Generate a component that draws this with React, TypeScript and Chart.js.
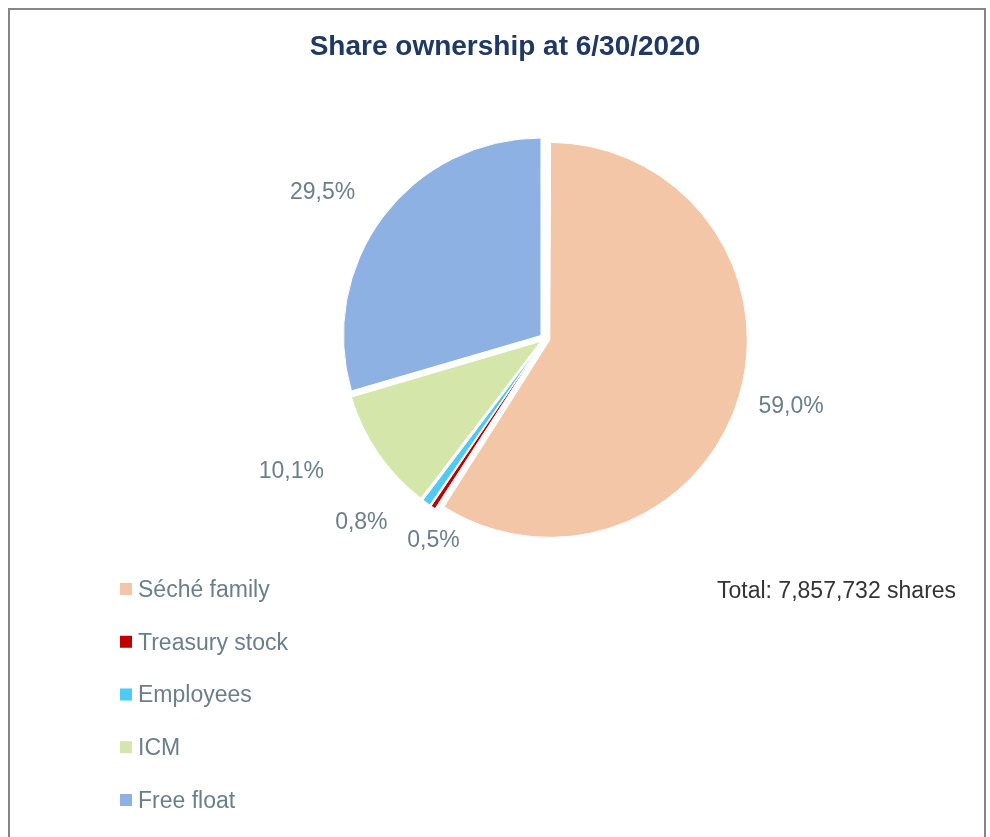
import React, { useEffect, useRef } from "react";
import { Chart, registerables } from "chart.js";

Chart.register(...registerables);

const labels = ["Séché family", "Treasury stock", "Employees", "ICM", "Free float"];
const values = [59.0, 0.5, 0.8, 10.1, 29.5];
const colors = ["#f2c6a7", "#c00000", "#4fc9f5", "#d5e6aa", "#8eb1e3"];
const titleText = "Share ownership at 6/30/2020";
const totalText = "Total: 7,857,732 shares";

// data-label placement (style): angle shift from slice middle (deg), distance from pie centre (px)
const labelAngleShift = [-1.1, -4.5, 9.3, 7.0, -3.25];
const labelDistance = [255, 230, 259, 286, 267];

const RADIUS = 197.5;
const EXPLODE = 5;
const FONT = '"Liberation Sans", Arial, Helvetica, sans-serif';
const LABEL_COLOR = "#6b7f89";

const fmtPct = (v: number) => v.toFixed(1).replace(".", ",") + "%";

const explodeFix = {
  id: "explodeFix",
  afterDatasetUpdate(chart: any) {
    const meta = chart.getDatasetMeta(0);
    meta.data.forEach((arc: any) => {
      const fix = 1 - Math.sin(Math.min(Math.PI, arc.circumference || 0));
      arc.outerRadius = RADIUS - EXPLODE * fix;
    });
  },
};

const decorations = {
  id: "decorations",
  afterDatasetsDraw(chart: any) {
    const ctx = chart.ctx as CanvasRenderingContext2D;
    const meta = chart.getDatasetMeta(0);
    const data = chart.data.datasets[0].data as number[];
    ctx.save();
    ctx.font = `23px ${FONT}`;
    ctx.fillStyle = LABEL_COLOR;
    ctx.textAlign = "center";
    ctx.textBaseline = "middle";
    meta.data.forEach((arc: any, i: number) => {
      const mid = (arc.startAngle + arc.endAngle) / 2 + (labelAngleShift[i] * Math.PI) / 180;
      const d = labelDistance[i];
      ctx.fillText(fmtPct(data[i]), arc.x + Math.cos(mid) * d, arc.y + Math.sin(mid) * d + 1.5);
    });
    ctx.restore();
  },
  afterDraw(chart: any) {
    const ctx = chart.ctx as CanvasRenderingContext2D;
    ctx.save();
    // title
    ctx.font = `bold 28px ${FONT}`;
    ctx.fillStyle = "#1f3864";
    ctx.textAlign = "center";
    ctx.textBaseline = "alphabetic";
    ctx.fillText(titleText, 505, 55);
    // total
    ctx.font = `23px ${FONT}`;
    ctx.fillStyle = "#333333";
    ctx.textAlign = "left";
    ctx.textBaseline = "middle";
    ctx.fillText(totalText, 717, 592);
    // legend
    const lbls = chart.data.labels as string[];
    const bg = chart.data.datasets[0].backgroundColor as string[];
    lbls.forEach((t, i) => {
      const y = 589 + i * 52.75;
      ctx.fillStyle = bg[i];
      ctx.fillRect(120, y - 6, 12, 12);
      ctx.fillStyle = LABEL_COLOR;
      ctx.fillText(t, 138, y + 1.5);
    });
    ctx.restore();
  },
};

export default function App() {
  const ref = useRef<HTMLCanvasElement>(null);
  useEffect(() => {
    if (!ref.current) return;
    const chart = new Chart(ref.current, {
      type: "pie",
      data: {
        labels,
        datasets: [
          {
            data: values,
            backgroundColor: colors,
            borderColor: "#ffffff",
            borderWidth: 1,
            offset: EXPLODE * 4,
            hoverOffset: EXPLODE * 4,
            radius: RADIUS,
          } as any,
        ],
      },
      options: {
        responsive: false,
        animation: false,
        radius: RADIUS,
        layout: { padding: { left: 100, right: 0, top: 0, bottom: 160 } },
        plugins: {
          legend: { display: false },
          title: { display: false },
          tooltip: { enabled: false },
        },
        events: [],
      } as any,
      plugins: [explodeFix, decorations],
    });
    return () => chart.destroy();
  }, []);
  return (
    <div style={{ position: "absolute", left: 0, top: 0, width: 990, height: 837, background: "#fff" }}>
      <div
        style={{
          position: "absolute",
          left: 8,
          top: 8,
          width: 978,
          height: 840,
          borderTop: "2px solid #858585",
          borderLeft: "2px solid #858585",
          borderRight: "2px solid #858585",
          boxSizing: "border-box",
        }}
      />
      <canvas ref={ref} width={990} height={837} style={{ position: "absolute", left: 0, top: 0 }} />
    </div>
  );
}
